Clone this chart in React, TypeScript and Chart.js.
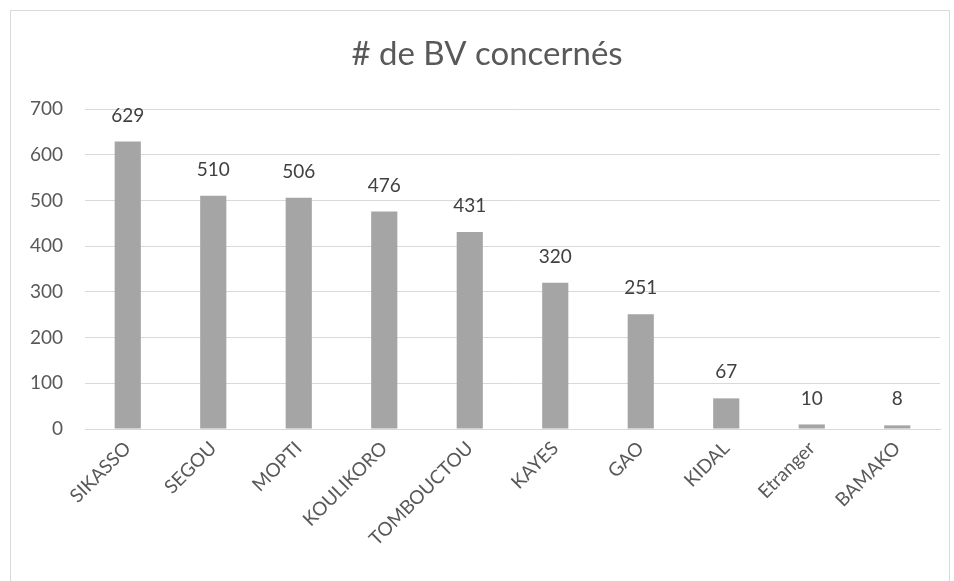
import React, { useEffect, useRef } from "react";
import { Chart, registerables } from "chart.js";

Chart.register(...registerables);

const TITLE = "# de BV concernés";
const categories = ["SIKASSO", "SEGOU", "MOPTI", "KOULIKORO", "TOMBOUCTOU", "KAYES", "GAO", "KIDAL", "Etranger", "BAMAKO"];
const values = [629, 510, 506, 476, 431, 320, 251, 67, 10, 8];
const yTicks = [0, 100, 200, 300, 400, 500, 600, 700];

const FONT = "Lato, 'Open Sans', sans-serif";

const labelsPlugin = {
  id: "valueLabels",
  afterDatasetsDraw(chart: any) {
    const ctx = chart.ctx;
    const meta = chart.getDatasetMeta(0);
    ctx.save();
    ctx.font = `19px ${FONT}`;
    ctx.fillStyle = "#404040";
    ctx.textAlign = "center";
    ctx.textBaseline = "middle";
    meta.data.forEach((bar: any, i: number) => {
      ctx.fillText(String(values[i]), bar.x, bar.y - 26);
    });
    ctx.restore();
  },
};

const titlePlugin = {
  id: "customTitle",
  afterDraw(chart: any) {
    const ctx = chart.ctx;
    ctx.save();
    ctx.font = `33px ${FONT}`;
    ctx.fillStyle = "#595959";
    ctx.textAlign = "center";
    ctx.textBaseline = "middle";
    ctx.fillText(TITLE, 477, 44);
    ctx.restore();
  },
};

export default function App() {
  const ref = useRef<HTMLCanvasElement>(null);
  useEffect(() => {
    if (!ref.current) return;
    const chart = new Chart(ref.current, {
      type: "bar",
      data: {
        labels: categories,
        datasets: [
          {
            data: values,
            backgroundColor: "#A5A5A5",
            barPercentage: 0.6,
            categoryPercentage: 0.51,
          },
        ],
      },
      options: {
        animation: false,
        responsive: false,
        layout: { padding: { top: 99, right: 10, left: 0, bottom: 0 } },
        plugins: { legend: { display: false }, title: { display: false }, tooltip: { enabled: false } },
        scales: {
          x: {
            grid: { display: false, drawTicks: false },
            border: { display: true, color: "#d9d9d9", width: 1 },
            ticks: {
              color: "#595959",
              font: { family: FONT, size: 19 },
              minRotation: 45,
              maxRotation: 45,
              padding: 8,
              autoSkip: false,
            },
            afterFit(scale: any) {
              scale.height = 152;
            },
          },
          y: {
            min: 0,
            max: 700,
            afterBuildTicks(scale: any) {
              scale.ticks = yTicks.map((v) => ({ value: v }));
            },
            grid: { color: "#d9d9d9", drawTicks: false },
            border: { display: false },
            ticks: {
              color: "#595959",
              font: { family: FONT, size: 19 },
              padding: 22,
            },
            afterFit(scale: any) {
              scale.width = 75;
            },
          },
        },
      },
      plugins: [labelsPlugin, titlePlugin],
    });
    return () => chart.destroy();
  }, []);

  return (
    <div style={{ position: "fixed", left: 0, top: 0, width: 954, height: 581, background: "#fff", overflow: "hidden" }}>
      <div
        style={{
          position: "absolute",
          left: 10,
          top: 10,
          width: 940,
          height: 600,
          border: "1px solid #d9d9d9",
          boxSizing: "border-box",
        }}
      />
      <canvas ref={ref} width={940} height={571} style={{ position: "absolute", left: 10, top: 10 }} />
    </div>
  );
}
